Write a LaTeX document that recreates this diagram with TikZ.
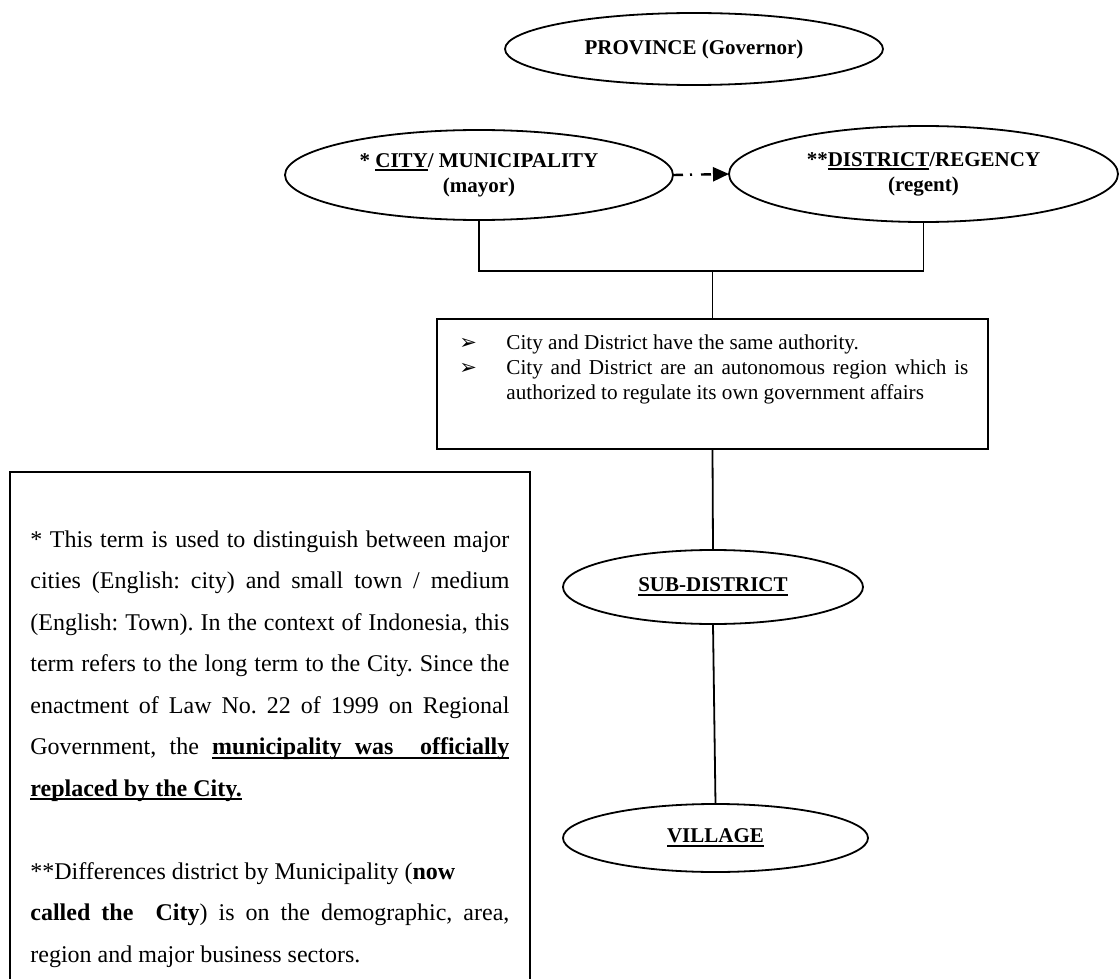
\documentclass[tikz,border=0pt]{standalone}
\usepackage{fontspec}
\setmainfont{Liberation Serif}
\newfontfamily\dejavu{DejaVu Sans}
\usetikzlibrary{shapes.geometric,arrows.meta}
\frenchspacing
\newcommand\jl[1]{\makebox[239.5pt][s]{#1}}
\newcommand\jb[1]{\makebox[231pt][s]{#1}}
\newcommand\bul{\makebox[24pt][l]{\hspace*{0.5pt}{\dejavu\fontsize{10.5}{10}\selectfont ➢}}}
\newcommand\ulw[1]{\setbox0\hbox{#1}\rlap{\vrule height -1.1pt depth 2pt width \wd0}\box0}
\newcommand\ulsp{\leaders\hrule height -1.1pt depth 2pt\hskip 3pt plus 1fil}
\newcommand\nsp{\hskip 3pt plus 1fil}
\begin{document}
\begin{tikzpicture}[x=0.5pt,y=-0.5pt,
  oval/.style={draw, ellipse, line width=0.9pt, inner sep=0pt, outer sep=0pt,
    align=center, font=\fontsize{10.5}{12.5}\selectfont\bfseries},
  frame/.style={draw, rectangle, line width=0.9pt, inner sep=0pt, outer sep=0pt, anchor=north west},
  link/.style={line width=0.9pt},
  dasharrow/.style={line width=1.2pt, dash pattern=on 5pt off 3.5pt on 1pt off 4.5pt,
    -{Triangle[length=8pt,width=7pt]}}
]
\useasboundingbox (0,0) rectangle (1120,979);
\clip (0,0) rectangle (1120,979);

\node[oval, minimum width=189pt, minimum height=36pt] (prov) at (694,49) {PROVINCE (Governor)};
\node[oval, minimum width=194pt, minimum height=45pt] (city) at (479,175) {* \ulw{CITY}/ MUNICIPALITY\\(mayor)};
\node[oval, minimum width=194.5pt, minimum height=48pt] (dist) at (923.5,174) {**\ulw{DISTRICT}/REGENCY\\(regent)};

\node[frame, minimum width=275.5pt, minimum height=65pt] (auth) at (437,319) {};
\node[anchor=base west, inner sep=0pt, align=left, font=\fontsize{10.6}{12.5}\selectfont] (authtext) at (458,399)
  {\bul City and District have the same authority.\\
   \bul\jb{City and District are an autonomous region which is}\\
   \hspace*{24pt}authorized to regulate its own government affairs};

\node[oval, minimum width=150pt, minimum height=37pt] (sub) at (713,587) {\ulw{SUB-DISTRICT}};
\node[oval, minimum width=152.5pt, minimum height=34pt] (vil) at (715.5,838) {\ulw{VILLAGE}};

\node[frame, line width=1pt, minimum width=260pt, minimum height=270pt] (notebox) at (10,472) {};
\node[anchor=base west, inner sep=0pt, align=left, font=\fontsize{12}{20.75}\selectfont] (notetext) at (30,962)
  {\jl{* This term is used to distinguish between major}\\
   \jl{cities (English: city) and small town / medium}\\
   \jl{(English: Town). In the context of Indonesia, this}\\
   \jl{term refers to the long term to the City. Since the}\\
   \jl{enactment of Law No. 22 of 1999 on Regional}\\
   \hbox to 239.5pt{Government,\nsp the\nsp\textbf{\ulw{municipality}\ulsp\ulw{was}\ulsp\ulsp\ulw{officially}}}\\
   \textbf{\ulw{replaced by the City.}}\\
   \mbox{}\\
   **Differences district by Municipality (\textbf{now}\\
   \jl{\textbf{called the\ \ City}) is on the demographic, area,}\\
   region and major business sectors.};

\coordinate (bar) at (0,271);
\draw[dasharrow] (city.east) -- (dist.west);
\draw[link] (city.south) -- (city.south |- bar) -- (dist.south |- bar) -- (dist.south);
\draw[link] (auth.north |- bar) -- (auth.north);
\draw[link] (auth.south) -- (sub.north);
\draw[link] (sub.south) -- (vil.north);
\end{tikzpicture}
\end{document}
